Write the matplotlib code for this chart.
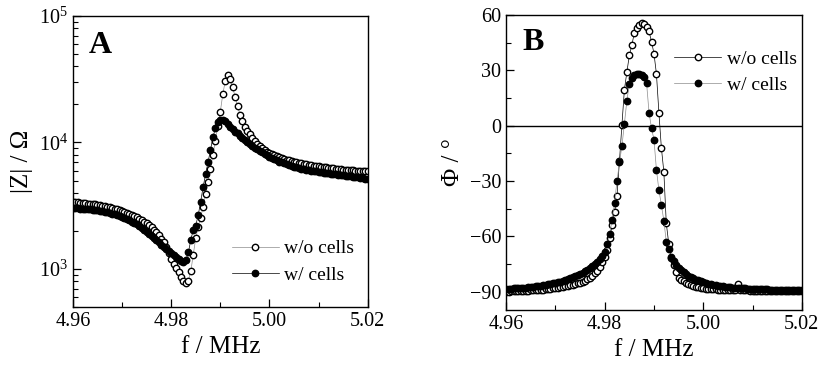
import numpy as np
import matplotlib
matplotlib.use("Agg")
import matplotlib.pyplot as plt
from matplotlib.ticker import MultipleLocator, LogLocator, NullFormatter

plt.rcParams['font.family'] = 'serif'
plt.rcParams['font.serif'] = ['Liberation Serif', 'DejaVu Serif']
plt.rcParams['mathtext.fontset'] = 'stix'

# frequency sweep of the analyser, 4.96 - 5.02 MHz, 121 points
f_start, f_stop, n_points = 4.96, 5.02, 121
freq = np.linspace(f_start, f_stop, n_points)

# |Z| in ohm, without cells
z_wo = [3400, 3390, 3370, 3350, 3330, 3310, 3290, 3275, 3260, 3240,
        3215, 3190, 3160, 3130, 3100, 3070, 3040, 3000, 2960, 2920,
        2880, 2830, 2780, 2730, 2680, 2620, 2560, 2500, 2440, 2370,
        2300, 2220, 2140, 2050, 1950, 1850, 1740, 1620, 1480, 1340,
        1200, 1100, 1010, 940, 870, 810, 780, 810, 960, 1300,
        1750, 2150, 2550, 3100, 3900, 4900, 6200, 8000, 10300, 13500,
        17500, 24000, 30500, 34000, 32000, 27500, 23000, 19500, 16600, 14700,
        13300, 12300, 11600, 10900, 10300, 9800, 9350, 9000, 8700, 8450,
        8250, 8100, 7950, 7800, 7650, 7520, 7400, 7300, 7200, 7120,
        7040, 6970, 6900, 6840, 6780, 6720, 6660, 6610, 6560, 6510,
        6460, 6420, 6380, 6340, 6300, 6260, 6230, 6200, 6170, 6140,
        6110, 6080, 6060, 6040, 6020, 6000, 5980, 5960, 5940, 5920,
        5900]

# |Z| in ohm, with cells
z_w = [3030, 3020, 3010, 3000, 2990, 2980, 2970, 2960, 2945, 2930,
       2910, 2890, 2860, 2830, 2800, 2775, 2740, 2700, 2660, 2620,
       2580, 2530, 2480, 2430, 2370, 2310, 2250, 2180, 2110, 2040,
       1970, 1900, 1830, 1760, 1690, 1620, 1560, 1500, 1440, 1390,
       1340, 1290, 1240, 1195, 1155, 1130, 1180, 1350, 1700, 2040,
       2200, 2660, 3400, 4440, 5600, 6980, 8700, 10990, 13000, 14400,
       15000, 15100, 14700, 14000, 13200, 12700, 12200, 11800, 11300, 10900,
       10500, 10100, 9700, 9400, 9100, 8850, 8600, 8350, 8100, 7900,
       7700, 7500, 7350, 7200, 7050, 6950, 6850, 6750, 6650, 6550,
       6450, 6370, 6300, 6220, 6150, 6100, 6050, 6000, 5950, 5900,
       5850, 5810, 5770, 5730, 5700, 5660, 5630, 5600, 5560, 5530,
       5500, 5470, 5440, 5410, 5380, 5340, 5300, 5250, 5200, 5150,
       5100]

# phase in degrees, without cells
phi_wo = [-90, -90, -89.9, -89.9, -89.8, -89.8, -89.7, -89.7, -89.6, -89.5,
          -89.4, -89.3, -89.2, -89.1, -89.0, -88.9, -88.8, -88.6, -88.5, -88.3,
          -88.1, -87.9, -87.7, -87.5, -87.2, -86.9, -86.6, -86.3, -86.0, -85.6,
          -85.2, -84.7, -84.1, -83.4, -82.5, -81.5, -80.2, -78.6, -76.6, -74.2,
          -71.2, -67.5, -61, -54, -47, -38, -19, 0.5, 19.5, 29,
          38, 43.5, 50, 53, 54.5, 55.4, 55, 53.5, 51, 45.5,
          39, 28, 7, -12, -25, -53, -64, -72, -75.5, -79.5,
          -82.5, -83.5, -84.5, -85.3, -86.0, -86.6, -87.0, -87.4, -87.7, -88.0,
          -88.2, -88.4, -88.5, -88.6, -88.7, -88.8, -88.9, -89.0, -89.0, -89.1,
          -89.1, -89.2, -89.2, -89.3, -86.0, -89.3, -89.4, -89.4, -89.4, -89.5,
          -89.5, -89.5, -89.5, -89.6, -89.6, -89.6, -89.6, -89.7, -89.7, -89.7,
          -89.7, -89.7, -89.8, -89.8, -89.8, -89.8, -89.8, -89.9, -89.9, -89.9,
          -89.9]

# phase in degrees, with cells
phi_w = [-88.6, -88.5, -88.4, -88.3, -88.2, -88.1, -88.0, -87.9, -87.8, -87.6,
         -87.5, -87.3, -87.2, -87.0, -86.8, -86.6, -86.4, -86.1, -85.9, -85.6,
         -85.3, -85.0, -84.6, -84.2, -83.8, -83.3, -82.8, -82.2, -81.5, -80.8,
         -80.5, -79.8, -79.0, -78.2, -77.3, -76.3, -75.2, -74.0, -72.6, -70.9,
         -68.5, -64, -59, -51, -42, -30, -20, -11, 1, 13.5,
         22.5, 26, 27.5, 28.2, 27.8, 27.2, 26.3, 23, 7, -1.5,
         -7.6, -24, -35, -43, -51.5, -63, -67, -71, -73.5, -75.5,
         -77, -78.4, -79.6, -80.6, -81.5, -82.2, -82.9, -83.5, -84.0, -84.5,
         -84.9, -85.3, -85.7, -86.0, -86.3, -86.6, -86.8, -87.0, -87.2, -87.4,
         -87.5, -87.7, -87.8, -87.9, -88.0, -88.1, -88.2, -88.3, -88.4, -88.4,
         -88.5, -88.6, -88.6, -88.7, -88.7, -88.8, -88.8, -88.9, -88.9, -88.9,
         -89.0, -89.0, -89.0, -89.1, -89.1, -89.1, -89.1, -89.2, -89.2, -89.2,
         -89.2]

labels = ['w/o cells', 'w/ cells']
xticks = [4.96, 4.98, 5.00, 5.02]

fig = plt.figure(figsize=(8.19, 3.76), dpi=100)
axA = fig.add_axes([0.089, 0.1835, 0.36, 0.774])
axB = fig.add_axes([0.618, 0.1755, 0.361, 0.785])

ms = 4.6
mew = 1.0

# panel A
axA.plot(freq, z_wo, '-o', color='0.55', lw=0.5, ms=ms, mew=mew,
         mfc='white', mec='black', label=labels[0])
axA.plot(freq, z_w, '-o', color='black', lw=0.5, ms=ms, mew=mew,
         mfc='black', mec='black', label=labels[1])
axA.set_yscale('log')
axA.set_ylim(500, 1e5)
axA.set_xlim(4.96, 5.02)
axA.set_xticks(xticks)
axA.set_xticklabels(['%.2f' % v for v in xticks])
axA.xaxis.set_minor_locator(MultipleLocator(0.01))
axA.yaxis.set_major_locator(LogLocator(base=10, numticks=10))
axA.yaxis.set_minor_locator(LogLocator(base=10, subs=np.arange(2, 10), numticks=10))
axA.yaxis.set_minor_formatter(NullFormatter())
axA.set_xlabel('f / MHz', fontsize=18)
axA.set_ylabel('|Z| / \u03a9', fontsize=18)
axA.text(0.055, 0.95, 'A', transform=axA.transAxes, fontsize=23,
         fontweight='bold', va='top', ha='left')
axA.legend(loc='lower left', bbox_to_anchor=(0.48, 0.02), frameon=False,
           fontsize=14, handlelength=2.4, handletextpad=0.3, labelspacing=0.45)

# panel B
axB.axhline(0, color='black', lw=1.0)
axB.plot(freq, phi_wo, '-o', color='black', lw=0.5, ms=ms, mew=mew,
         mfc='white', mec='black', label=labels[0])
axB.plot(freq, phi_w, '-o', color='0.55', lw=0.5, ms=ms, mew=mew,
         mfc='black', mec='black', label=labels[1])
axB.set_ylim(-100, 60)
axB.set_xlim(4.96, 5.02)
axB.set_xticks(xticks)
axB.set_xticklabels(['%.2f' % v for v in xticks])
axB.xaxis.set_minor_locator(MultipleLocator(0.01))
axB.set_yticks([-90, -60, -30, 0, 30, 60])
axB.yaxis.set_minor_locator(MultipleLocator(15))
axB.set_xlabel('f / MHz', fontsize=18)
axB.set_ylabel('\u03a6 / \u00b0', fontsize=18)
axB.text(0.055, 0.955, 'B', transform=axB.transAxes, fontsize=23,
         fontweight='bold', va='top', ha='left')
axB.legend(loc='upper left', bbox_to_anchor=(0.51, 0.94), frameon=False,
           fontsize=14, handlelength=2.4, handletextpad=0.3, labelspacing=0.45)

for ax in (axA, axB):
    ax.tick_params(which='both', direction='in', top=False, right=False,
                   labelsize=14.5)
    ax.tick_params(which='major', length=6, width=0.9)
    ax.tick_params(which='minor', length=3.5, width=0.8)
    for s in ax.spines.values():
        s.set_linewidth(1.0)

fig.savefig('out.png', dpi=100)
